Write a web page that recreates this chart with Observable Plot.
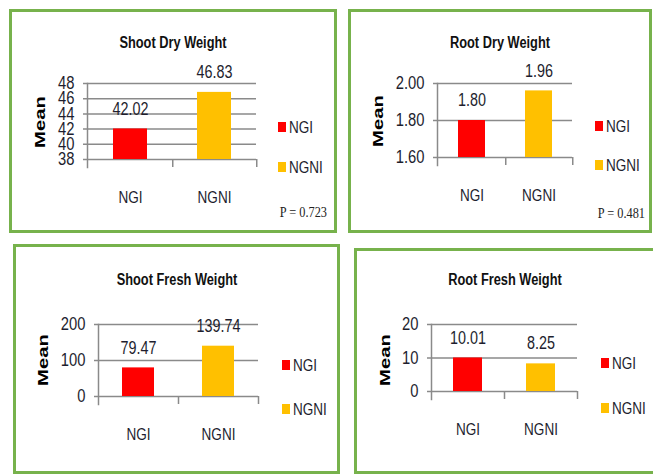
<!DOCTYPE html>
<html><head><meta charset="utf-8">
<script src="https://cdn.jsdelivr.net/npm/d3@7"></script>
<script src="https://cdn.jsdelivr.net/npm/@observablehq/plot@0.6"></script>
<style>
html,body{margin:0;padding:0;background:#fff;}
#wrap{position:relative;width:653px;height:474px;overflow:hidden;background:#fff;font-family:"Liberation Sans",Arial,sans-serif;color:#1e1e2e;}
.panel{position:absolute;border:3px solid #77B24C;box-sizing:border-box;}
.title{position:absolute;transform-origin:center center;transform:translate(-50%,-50%) scaleX(0.8);font-weight:bold;font-size:16px;white-space:nowrap;color:#111;}
.mean{position:absolute;font-family:"Liberation Sans",Arial,sans-serif;font-weight:bold;font-size:15px;transform:translate(-50%,-50%) rotate(-90deg) scaleX(1.35);color:#000;white-space:nowrap;}
.sw{position:absolute;width:8px;height:10px;transform:translateY(-50%);}
.lt{position:absolute;font-size:16.5px;transform-origin:left center;transform:translateY(-50%) scaleX(0.82);white-space:nowrap;}
.p{position:absolute;font-family:"Liberation Serif","Times New Roman",serif;font-size:15px;transform-origin:right center;transform:translate(-100%,-50%) scaleX(0.82);white-space:nowrap;color:#222;}
#wrap svg{position:absolute;}
</style>
</head><body>
<div id="wrap"></div>
<script>
// ---- data ----
const categories = ["NGI", "NGNI"];
const titles = ["Shoot Dry Weight", "Root Dry Weight", "Shoot Fresh Weight", "Root Fresh Weight"];
const shootDry = [42.02, 46.83];
const rootDry = [1.80, 1.96];
const shootFresh = [79.47, 139.74];
const rootFresh = [10.01, 8.25];
const shootDryTicks = [38, 40, 42, 44, 46, 48];
const rootDryTicks = [1.60, 1.80, 2.00];
const shootFreshTicks = [0, 100, 200];
const rootFreshTicks = [0, 10, 20];
const pValues = ["P = 0.723", "P = 0.481", null, null];
const yLabel = "Mean";
const colors = ["#FF0000", "#FFC000"];

// ---- layout ----
const sans = '"Liberation Sans",Arial,sans-serif';
const textColor = "#1e1e2e";
const grid = "#8a8a8a";
const squeeze = 0.82;
const panels = [
  {title: titles[0], values: shootDry, ticks: shootDryTicks, fmt: d3.format("d"), p: pValues[0],
   box: [9, 9, 328, 224], frame: [87, 256, 83, 159], titleAt: [173, 43], meanAt: [39, 122], legendX: 278, legendY: [127, 167], pAt: [327, 212]},
  {title: titles[1], values: rootDry, ticks: rootDryTicks, fmt: d3.format(".2f"), p: pValues[1],
   box: [348, 9, 304, 224], frame: [437, 572, 83, 157], titleAt: [500, 43], meanAt: [377, 121], legendX: 595, legendY: [125.5, 165], pAt: [645, 213]},
  {title: titles[2], values: shootFresh, ticks: shootFreshTicks, fmt: d3.format("d"), p: pValues[2],
   box: [13, 244, 327, 230], frame: [98, 258, 324, 396], titleAt: [177, 280], meanAt: [42, 360], legendX: 282, legendY: [364.5, 409]},
  {title: titles[3], values: rootFresh, ticks: rootFreshTicks, fmt: d3.format("d"), p: pValues[3],
   box: [354, 248, 310, 226], frame: [431, 577, 324, 391], titleAt: [505, 280], meanAt: [384, 360], legendX: 601, legendY: [363, 407.5]}
];

const wrap = document.getElementById("wrap");
function el(cls, text, styles) {
  const d = document.createElement("div");
  d.className = cls;
  if (text != null) d.textContent = text;
  Object.assign(d.style, styles);
  wrap.appendChild(d);
  return d;
}

for (const cfg of panels) {
  const [bx, by, bw, bh] = cfg.box;
  el("panel", null, {left: bx + "px", top: by + "px", width: bw + "px", height: bh + "px"});

  const [fx0, fx1, fyT, fyB] = cfg.frame;
  const mL = 60, mR = 20, mT = 40, mB = 60;
  const W = fx1 - fx0 + mL + mR, H = fyB - fyT + mT + mB;
  const data = categories.map((c, i) => ({cat: c, value: cfg.values[i]}));
  const step = (fx1 - fx0) / categories.length;
  const domain = d3.extent(cfg.ticks);
  const ymin = domain[0];
  const plot = Plot.plot({
    width: W, height: H, marginLeft: mL, marginRight: mR, marginTop: mT, marginBottom: mB,
    style: {fontFamily: sans, color: textColor, background: "transparent", overflow: "visible"},
    x: {domain: categories, paddingInner: 0.6, paddingOuter: 0.3, label: null},
    y: {domain, label: null},
    color: {domain: categories, range: colors},
    marks: [
      Plot.ruleY(cfg.ticks, {stroke: grid, strokeWidth: 1.5, insetLeft: -4}),
      Plot.frame({anchor: "left", stroke: grid, strokeWidth: 1.5, insetBottom: -8}),
      Plot.ruleX(categories, {x: d => d, y1: ymin, y2: ymin, dx: step / 2, insetBottom: -8, stroke: grid, strokeWidth: 1.5}),
      Plot.barY(data, {x: "cat", y1: ymin, y2: "value", fill: "cat"}),
      Plot.text(data, {x: "cat", y: "value", text: d => d3.format(".2f")(d.value), dy: -20, fontSize: 17.5, fill: textColor}),
      Plot.axisY({ticks: cfg.ticks, tickSize: 0, tickPadding: 13, tickFormat: cfg.fmt, fontSize: 18, label: null}),
      Plot.axisX({tickSize: 0, tickPadding: 32, fontSize: 16.5, label: null})
    ]
  });
  plot.style.left = (fx0 - mL) + "px";
  plot.style.top = (fyT - mT) + "px";
  wrap.appendChild(plot);
  // narrow the glyphs (the original uses a condensed face)
  plot.querySelectorAll("text").forEach(t => {
    const len = t.getComputedTextLength();
    if (len > 0) {
      t.setAttribute("textLength", (len * squeeze).toFixed(2));
      t.setAttribute("lengthAdjust", "spacingAndGlyphs");
    }
  });

  el("title", cfg.title, {left: cfg.titleAt[0] + "px", top: cfg.titleAt[1] + "px"});
  el("mean", yLabel, {left: cfg.meanAt[0] + "px", top: cfg.meanAt[1] + "px"});
  categories.forEach((c, i) => {
    el("sw", null, {left: cfg.legendX + "px", top: cfg.legendY[i] + "px", background: colors[i]});
    el("lt", c, {left: (cfg.legendX + 11) + "px", top: cfg.legendY[i] + "px"});
  });
  if (cfg.p) el("p", cfg.p, {left: cfg.pAt[0] + "px", top: cfg.pAt[1] + "px"});
}
</script>
</body></html>
